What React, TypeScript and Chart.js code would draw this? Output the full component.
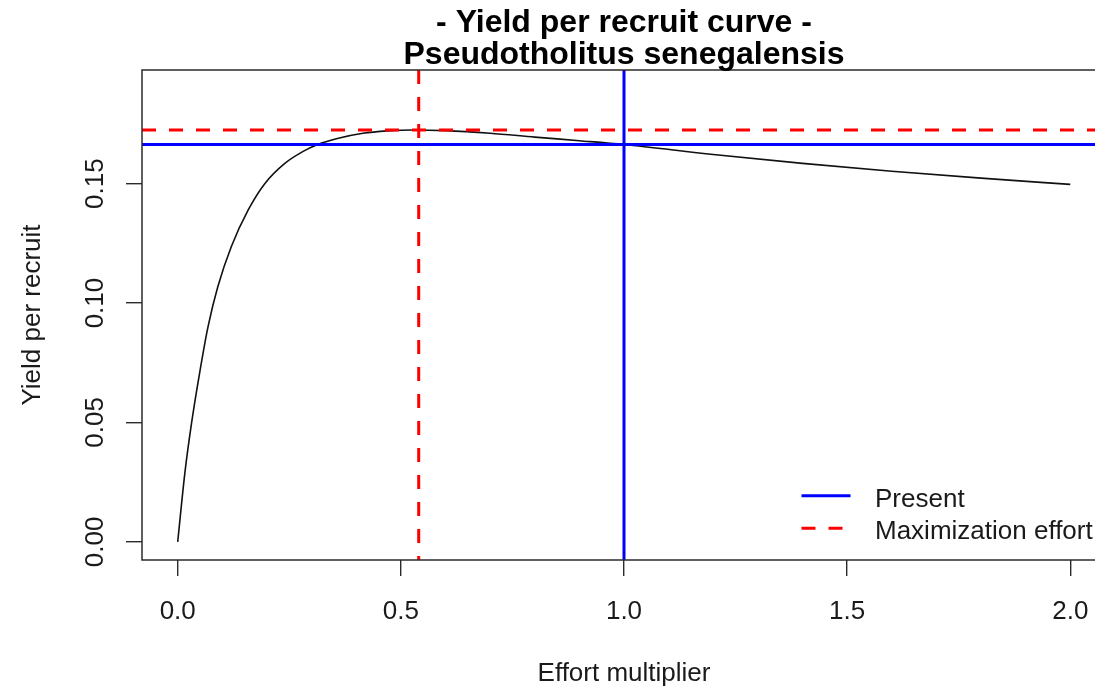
import React, { useEffect, useRef } from 'react';
import { Chart, registerables } from 'chart.js';

Chart.register(...registerables);

// Yield-per-recruit curve against the fishing effort multiplier
const effortMultiplier = [
  0, 0.016, 0.031, 0.049, 0.068, 0.09, 0.12, 0.158, 0.195, 0.24, 0.28, 0.311, 0.36,
  0.415, 0.47, 0.527, 0.6, 0.7, 0.8, 0.9, 1.0, 1.2, 1.4, 1.6, 1.8, 2.0,
];
const yieldPerRecruit = [
  0, 0.0288, 0.0497, 0.0706, 0.0901, 0.1069, 0.1236, 0.139, 0.15, 0.1585, 0.1634, 0.1662, 0.169,
  0.1711, 0.1721, 0.1725, 0.1722, 0.1711, 0.1695, 0.168, 0.1664, 0.1622, 0.1585, 0.1552, 0.1523, 0.1497,
];

// Reference points: present effort and the effort that maximises Y/R
const presentEffort = 1.0;
const presentYield = 0.1664;
const maxEffort = 0.54;
const maxYield = 0.1725;

const xTicks = [0, 0.5, 1, 1.5, 2];
const xTickLabels = ['0.0', '0.5', '1.0', '1.5', '2.0'];
const yTicks = [0, 0.05, 0.1, 0.15];
const yTickLabels = ['0.00', '0.05', '0.10', '0.15'];

const xLimits = [-0.08, 2.08];
const yLimits = [-0.0076, 0.1976];

const titleLines = ['- Yield per recruit curve -', 'Pseudotholitus senegalensis'];
const xAxisTitle = 'Effort multiplier';
const yAxisTitle = 'Yield per recruit';
const legendLabels = ['Present', 'Maximization effort'];

const FONT = '"Liberation Sans", Arial, Helvetica, sans-serif';
const TEXT_COLOR = '#1a1a1a';
const DASH = [14, 13];

// Draws the base-graphics style frame, text and legend around the plot region
const basePlotDecor = {
  id: 'basePlotDecor',
  afterDatasetsDraw(chart: any) {
    const { ctx, chartArea: a, scales } = chart;
    const xs = scales.x;
    const ys = scales.y;
    ctx.save();

    // plot box
    ctx.strokeStyle = '#2b2b2b';
    ctx.lineWidth = 1.5;
    ctx.setLineDash([]);
    ctx.strokeRect(a.left, a.top, a.right - a.left, a.bottom - a.top);

    ctx.fillStyle = TEXT_COLOR;

    // x tick labels
    ctx.font = `26px ${FONT}`;
    ctx.textAlign = 'center';
    ctx.textBaseline = 'alphabetic';
    xTicks.forEach((v, i) => {
      ctx.fillText(xTickLabels[i], xs.getPixelForValue(v), a.bottom + 58.5);
    });

    // y tick labels (parallel to the axis)
    yTicks.forEach((v, i) => {
      ctx.save();
      ctx.translate(a.left - 39.5, ys.getPixelForValue(v));
      ctx.rotate(-Math.PI / 2);
      ctx.fillText(yTickLabels[i], 0, 0);
      ctx.restore();
    });

    // axis titles
    const cx = (a.left + a.right) / 2;
    const cy = (a.top + a.bottom) / 2;
    ctx.fillText(xAxisTitle, cx, a.bottom + 121);
    ctx.save();
    ctx.translate(a.left - 102, cy);
    ctx.rotate(-Math.PI / 2);
    ctx.fillText(yAxisTitle, 0, 0);
    ctx.restore();

    // main title
    ctx.fillStyle = '#000';
    ctx.font = `bold 32px ${FONT}`;
    ctx.fillText(titleLines[0], cx, 32);
    ctx.fillText(titleLines[1], cx, 63.5);

    // legend (bottom right, no frame)
    const entries = [chart.data.datasets[1], chart.data.datasets[3]];
    const rowY = [a.bottom - 64.3, a.bottom - 31.7];
    const lineX0 = a.right - 304.5;
    const lineX1 = a.right - 255.5;
    const textX = a.right - 231;
    entries.forEach((ds: any, i: number) => {
      ctx.strokeStyle = ds.borderColor;
      ctx.lineWidth = ds.borderWidth;
      ctx.setLineDash(ds.borderDash || []);
      ctx.beginPath();
      ctx.moveTo(lineX0, rowY[i]);
      ctx.lineTo(lineX1, rowY[i]);
      ctx.stroke();
      ctx.setLineDash([]);
      ctx.fillStyle = TEXT_COLOR;
      ctx.font = `26px ${FONT}`;
      ctx.textAlign = 'left';
      ctx.fillText(legendLabels[i], textX, rowY[i] + 10.8);
    });

    ctx.restore();
  },
};

export default function App() {
  const canvasRef = useRef<HTMLCanvasElement>(null);

  useEffect(() => {
    const canvas = canvasRef.current;
    if (!canvas) return;

    const refLine = (points: { x: number; y: number }[], color: string, dash: number[]) => ({
      data: points,
      borderColor: color,
      borderWidth: 3,
      borderDash: dash,
      pointRadius: 0,
      fill: false,
      tension: 0,
      clip: 0,
      order: 1,
    });

    const chart = new Chart(canvas, {
      type: 'line',
      data: {
        datasets: [
          {
            data: effortMultiplier.map((x, i) => ({ x, y: yieldPerRecruit[i] })),
            borderColor: '#111',
            borderWidth: 1.6,
            pointRadius: 0,
            fill: false,
            cubicInterpolationMode: 'monotone',
            clip: 0,
            order: 2,
          } as any,
          refLine(
            [
              { x: xLimits[0], y: presentYield },
              { x: xLimits[1], y: presentYield },
            ],
            '#0000ff',
            []
          ),
          refLine(
            [
              { x: presentEffort, y: yLimits[0] },
              { x: presentEffort, y: yLimits[1] },
            ],
            '#0000ff',
            []
          ),
          refLine(
            [
              { x: xLimits[0], y: maxYield },
              { x: xLimits[1], y: maxYield },
            ],
            '#ff0000',
            DASH
          ),
          refLine(
            [
              { x: maxEffort, y: yLimits[1] },
              { x: maxEffort, y: yLimits[0] },
            ],
            '#ff0000',
            DASH
          ),
        ],
      },
      options: {
        responsive: false,
        animation: false,
        devicePixelRatio: 1,
        layout: { padding: { top: 70, left: 0, right: 0, bottom: 0 } },
        plugins: {
          legend: { display: false },
          title: { display: false },
          tooltip: { enabled: false },
        },
        scales: {
          x: {
            type: 'linear',
            position: 'bottom',
            min: xLimits[0],
            max: xLimits[1],
            afterBuildTicks: (s: any) => {
              s.ticks = xTicks.map((v) => ({ value: v }));
            },
            afterFit: (s: any) => {
              s.height = 126;
            },
            grid: {
              drawOnChartArea: false,
              drawTicks: true,
              tickLength: 16,
              color: '#2b2b2b',
              lineWidth: 1.4,
            },
            border: { display: false },
            ticks: { display: false },
          },
          y: {
            type: 'linear',
            position: 'left',
            min: yLimits[0],
            max: yLimits[1],
            afterBuildTicks: (s: any) => {
              s.ticks = yTicks.map((v) => ({ value: v }));
            },
            afterFit: (s: any) => {
              s.width = 142;
            },
            grid: {
              drawOnChartArea: false,
              drawTicks: true,
              tickLength: 16,
              color: '#2b2b2b',
              lineWidth: 1.4,
            },
            border: { display: false },
            ticks: { display: false },
          },
        },
      },
      plugins: [basePlotDecor],
    });

    return () => chart.destroy();
  }, []);

  return (
    <div
      style={{
        position: 'fixed',
        left: 0,
        top: 0,
        width: 1095,
        height: 686,
        overflow: 'hidden',
        background: '#fff',
      }}
    >
      <canvas ref={canvasRef} width={1106} height={686} style={{ display: 'block', width: 1106, height: 686 }} />
    </div>
  );
}
